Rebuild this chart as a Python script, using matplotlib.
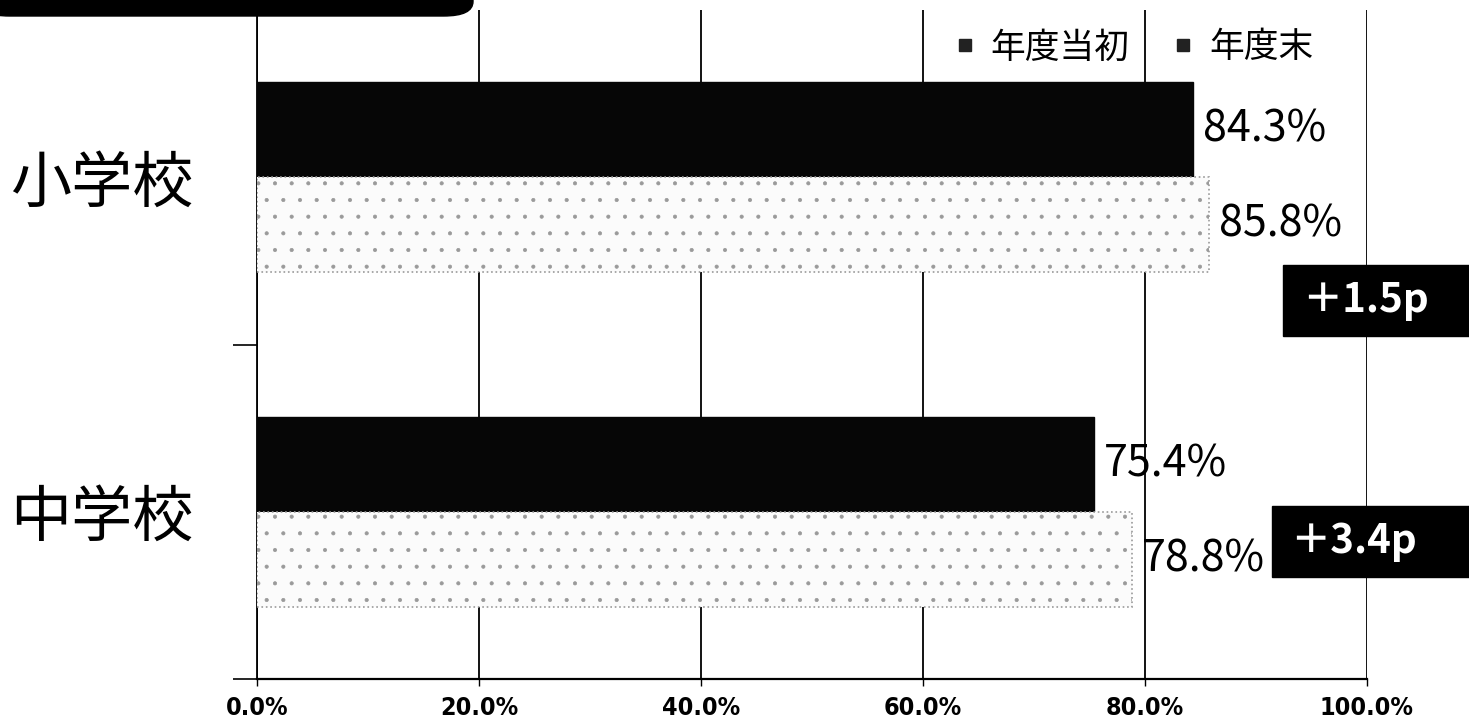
import matplotlib.pyplot as plt
from matplotlib.patches import FancyBboxPatch, Rectangle
from matplotlib.lines import Line2D

plt.rcParams['font.family'] = ['Noto Sans CJK JP', 'DejaVu Sans']
plt.rcParams['hatch.color'] = '#c4c4c4'
plt.rcParams['hatch.linewidth'] = 0.5

# 学校種別の達成率（%）
schools = ['中学校', '小学校']
start_of_year = [75.4, 84.3]   # 年度当初
end_of_year = [78.8, 85.8]     # 年度末
series_names = ['年度当初', '年度末']
xticks = [0, 20, 40, 60, 80, 100]

W, H = 1469, 723
fig = plt.figure(figsize=(W / 100, H / 100), dpi=100)
ax = fig.add_axes([257 / W, 44 / H, 1110 / W, 669 / H])

y = list(range(len(schools)))
off, bh = 0.142, 0.284
ax.barh([v + off for v in y], start_of_year, height=bh, color='#060606',
        edgecolor='#060606', zorder=3)
ax.barh([v - off for v in y], end_of_year, height=bh, color='#fbfbfb',
        edgecolor='#9a9a9a', linestyle=':', linewidth=1.2, hatch='.', zorder=3)

for i in y:
    ax.text(start_of_year[i] + 0.9, i + off, f'{start_of_year[i]:.1f}%',
            va='center', ha='left', fontsize=31, zorder=5)
    ax.text(end_of_year[i] + 0.9, i - off, f'{end_of_year[i]:.1f}%',
            va='center', ha='left', fontsize=31, zorder=5)

ax.set_xlim(0, 100)
ax.set_ylim(-0.5, 1.5)
ax.set_xticks(xticks)
ax.set_xticklabels([f'{t:.1f}%' for t in xticks], fontsize=18,
                   fontweight='bold', fontstretch='condensed',
                   family=['DejaVu Sans'])
ax.tick_params(axis='x', length=5, width=1, pad=7, direction='out')

# 区切り目盛りとカテゴリ名
ax.set_yticks([-0.5, 0.5, 1.5])
ax.set_yticklabels([])
ax.tick_params(axis='y', which='major', length=17, width=1.2)
ax.set_yticks(y, minor=True)
ax.set_yticklabels(schools, minor=True, fontsize=44)
ax.tick_params(axis='y', which='minor', length=0, pad=46)

ax.grid(axis='x', color='black', linewidth=1.3, zorder=1)
for s in ['top', 'right']:
    ax.spines[s].set_visible(False)
ax.spines['left'].set_linewidth(1.3)
ax.spines['bottom'].set_linewidth(1.6)
ax.set_axisbelow(True)

# 凡例
handles = [Line2D([], [], linestyle='none', marker='s', markersize=9,
                  color='#222222', label=n) for n in series_names]
ax.legend(handles=handles, ncol=2, loc='center right', frameon=False,
          bbox_to_anchor=(1345 / W, 1 - 48 / H), bbox_transform=fig.transFigure,
          fontsize=25, handlelength=0.5, handletextpad=0.5,
          columnspacing=1.3)

# 上部の見出し帯
fig.patches.append(FancyBboxPatch((-20 / W, (H - 16) / H), 493 / W, 40 / H,
                                  boxstyle='round,pad=0,rounding_size=0.02',
                                  transform=fig.transFigure, facecolor='black',
                                  edgecolor='black', zorder=10))

# 増加幅の表示
boxes = [(1272, 506, 577, 1353), (1283, 265, 336, 1365)]
for i, (x0, ytop, ybot, xc) in enumerate(boxes):
    fig.patches.append(Rectangle((x0 / W, (H - ybot) / H), (W - x0 + 5) / W,
                                 (ybot - ytop) / H, transform=fig.transFigure,
                                 facecolor='black', edgecolor='black', zorder=6))
    diff = end_of_year[i] - start_of_year[i]
    fig.text(xc / W, 1 - (ytop + ybot) / 2 / H, f'＋{diff:.1f}p',
             color='white', fontsize=29, fontweight='bold',
             ha='center', va='center', zorder=7)

fig.savefig('out.png', dpi=100)
